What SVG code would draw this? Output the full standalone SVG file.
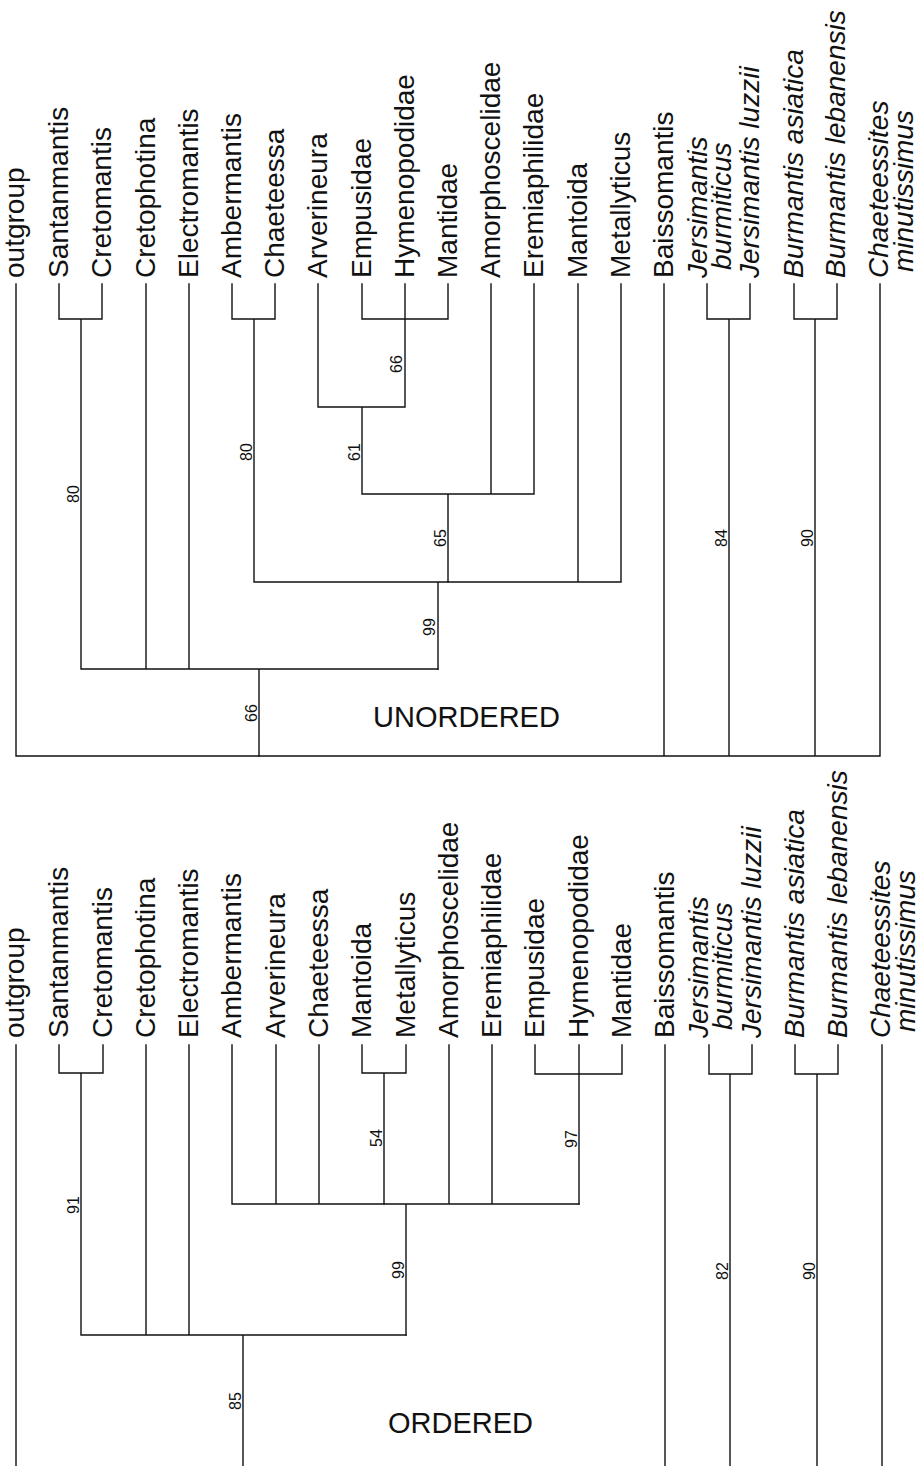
<svg xmlns="http://www.w3.org/2000/svg" width="919" height="1466" viewBox="0 0 919 1466">
<style>
.ln{fill:none;stroke:#111;stroke-width:1.4;stroke-linecap:square}
.lf{font-family:"Liberation Sans",Arial,sans-serif;font-size:28px;fill:#111}
.it{font-style:italic}
.bs{font-family:"Liberation Sans",Arial,sans-serif;font-size:16px;fill:#111;text-anchor:middle}
.ti{font-family:"Liberation Sans",Arial,sans-serif;font-size:29px;fill:#111}
</style>
<rect width="919" height="1466" fill="#fff"/>

<g id="connectors">
  <!-- UNORDERED tree -->
  <path class="ln" d="M59,284V319H102V284 M81,319V669 M146,284V669 M189,284V669 M81,669H438 M259,669V756"/>
  <path class="ln" d="M232,284V319H275V284 M254,319V582 M254,582H621 M438,582V669 M578,284V582 M621,284V582"/>
  <path class="ln" d="M448,494V582 M362,494H534 M491,284V494 M534,284V494 M362,407V494 M318,407H405 M318,284V407 M405,284V407 M362,284V319H448V284"/>
  <path class="ln" d="M16,284V756H880 M664,284V756 M707,284V319H750V284 M729,319V756 M794,284V319H837V284 M815,319V756 M880,284V756"/>
  <!-- ORDERED tree -->
  <path class="ln" d="M59,1045V1073H103V1045 M81,1073V1335 M146,1045V1335 M189,1045V1335 M81,1335H406 M243,1335V1466"/>
  <path class="ln" d="M406,1204V1335 M232,1204H579 M232,1045V1204 M276,1045V1204 M319,1045V1204 M449,1045V1204 M492,1045V1204"/>
  <path class="ln" d="M362,1045V1073H406V1045 M384,1073V1204 M535,1045V1074H622V1045 M579,1045V1204"/>
  <path class="ln" d="M16,1045V1466 M665,1045V1466 M709,1045V1074H752V1045 M730,1074V1466 M795,1045V1074H838V1045 M817,1074V1466 M882,1045V1466"/>
</g>

<!-- UNORDERED leaves -->
<g id="u-outgroup"><text class="lf" transform="translate(24,278) rotate(-90)">outgroup</text></g>
<g id="u-santanmantis"><text class="lf" transform="translate(68,278) rotate(-90)">Santanmantis</text></g>
<g id="u-cretomantis"><text class="lf" transform="translate(111,278) rotate(-90)">Cretomantis</text></g>
<g id="u-cretophotina"><text class="lf" transform="translate(155,278) rotate(-90)">Cretophotina</text></g>
<g id="u-electromantis"><text class="lf" transform="translate(198,278) rotate(-90)">Electromantis</text></g>
<g id="u-ambermantis"><text class="lf" transform="translate(241,278) rotate(-90)">Ambermantis</text></g>
<g id="u-chaeteessa"><text class="lf" transform="translate(284,278) rotate(-90)">Chaeteessa</text></g>
<g id="u-arverineura"><text class="lf" transform="translate(327,278) rotate(-90)">Arverineura</text></g>
<g id="u-empusidae"><text class="lf" transform="translate(371,278) rotate(-90)">Empusidae</text></g>
<g id="u-hymenopodidae"><text class="lf" transform="translate(414,278) rotate(-90)">Hymenopodidae</text></g>
<g id="u-mantidae"><text class="lf" transform="translate(457,278) rotate(-90)">Mantidae</text></g>
<g id="u-amorphoscelidae"><text class="lf" transform="translate(500,278) rotate(-90)">Amorphoscelidae</text></g>
<g id="u-eremiaphilidae"><text class="lf" transform="translate(543,278) rotate(-90)">Eremiaphilidae</text></g>
<g id="u-mantoida"><text class="lf" transform="translate(587,278) rotate(-90)">Mantoida</text></g>
<g id="u-metallyticus"><text class="lf" transform="translate(630,278) rotate(-90)">Metallyticus</text></g>
<g id="u-baissomantis"><text class="lf" transform="translate(673,278) rotate(-90)">Baissomantis</text></g>
<g id="u-jersimantis-burmiticus"><text class="lf it" transform="translate(707,278) rotate(-90)">Jersimantis</text><text class="lf it" transform="translate(731,270) rotate(-90)">burmiticus</text></g>
<g id="u-jersimantis-luzzii"><text class="lf it" transform="translate(759,278) rotate(-90)">Jersimantis luzzii</text></g>
<g id="u-burmantis-asiatica"><text class="lf it" transform="translate(803,278) rotate(-90)">Burmantis asiatica</text></g>
<g id="u-burmantis-lebanensis"><text class="lf it" transform="translate(845,278) rotate(-90)">Burmantis lebanensis</text></g>
<g id="u-chaeteessites"><text class="lf it" transform="translate(888,278) rotate(-90)">Chaeteessites</text><text class="lf it" transform="translate(913,272) rotate(-90)">minutissimus</text></g>

<!-- UNORDERED support values -->
<g id="u-support">
  <text class="bs" transform="translate(79,494) rotate(-90)">80</text>
  <text class="bs" transform="translate(252,452) rotate(-90)">80</text>
  <text class="bs" transform="translate(402,364) rotate(-90)">66</text>
  <text class="bs" transform="translate(360,452) rotate(-90)">61</text>
  <text class="bs" transform="translate(446,538) rotate(-90)">65</text>
  <text class="bs" transform="translate(435,627) rotate(-90)">99</text>
  <text class="bs" transform="translate(257,713) rotate(-90)">66</text>
  <text class="bs" transform="translate(727,538) rotate(-90)">84</text>
  <text class="bs" transform="translate(813,538) rotate(-90)">90</text>
</g>
<g id="u-title"><text class="ti" x="373" y="727">UNORDERED</text></g>

<!-- ORDERED leaves -->
<g id="o-outgroup"><text class="lf" transform="translate(24,1038) rotate(-90)">outgroup</text></g>
<g id="o-santanmantis"><text class="lf" transform="translate(68,1038) rotate(-90)">Santanmantis</text></g>
<g id="o-cretomantis"><text class="lf" transform="translate(112,1038) rotate(-90)">Cretomantis</text></g>
<g id="o-cretophotina"><text class="lf" transform="translate(155,1038) rotate(-90)">Cretophotina</text></g>
<g id="o-electromantis"><text class="lf" transform="translate(198,1038) rotate(-90)">Electromantis</text></g>
<g id="o-ambermantis"><text class="lf" transform="translate(241,1038) rotate(-90)">Ambermantis</text></g>
<g id="o-arverineura"><text class="lf" transform="translate(285,1038) rotate(-90)">Arverineura</text></g>
<g id="o-chaeteessa"><text class="lf" transform="translate(328,1038) rotate(-90)">Chaeteessa</text></g>
<g id="o-mantoida"><text class="lf" transform="translate(371,1038) rotate(-90)">Mantoida</text></g>
<g id="o-metallyticus"><text class="lf" transform="translate(415,1038) rotate(-90)">Metallyticus</text></g>
<g id="o-amorphoscelidae"><text class="lf" transform="translate(458,1038) rotate(-90)">Amorphoscelidae</text></g>
<g id="o-eremiaphilidae"><text class="lf" transform="translate(501,1038) rotate(-90)">Eremiaphilidae</text></g>
<g id="o-empusidae"><text class="lf" transform="translate(544,1038) rotate(-90)">Empusidae</text></g>
<g id="o-hymenopodidae"><text class="lf" transform="translate(588,1038) rotate(-90)">Hymenopodidae</text></g>
<g id="o-mantidae"><text class="lf" transform="translate(631,1038) rotate(-90)">Mantidae</text></g>
<g id="o-baissomantis"><text class="lf" transform="translate(674,1038) rotate(-90)">Baissomantis</text></g>
<g id="o-jersimantis-burmiticus"><text class="lf it" transform="translate(708,1038) rotate(-90)">Jersimantis</text><text class="lf it" transform="translate(732,1030) rotate(-90)">burmiticus</text></g>
<g id="o-jersimantis-luzzii"><text class="lf it" transform="translate(761,1038) rotate(-90)">Jersimantis luzzii</text></g>
<g id="o-burmantis-asiatica"><text class="lf it" transform="translate(804,1038) rotate(-90)">Burmantis asiatica</text></g>
<g id="o-burmantis-lebanensis"><text class="lf it" transform="translate(847,1038) rotate(-90)">Burmantis lebanensis</text></g>
<g id="o-chaeteessites"><text class="lf it" transform="translate(890,1038) rotate(-90)">Chaeteessites</text><text class="lf it" transform="translate(915,1032) rotate(-90)">minutissimus</text></g>

<!-- ORDERED support values -->
<g id="o-support">
  <text class="bs" transform="translate(79,1205) rotate(-90)">91</text>
  <text class="bs" transform="translate(382,1138) rotate(-90)">54</text>
  <text class="bs" transform="translate(577,1139) rotate(-90)">97</text>
  <text class="bs" transform="translate(404,1270) rotate(-90)">99</text>
  <text class="bs" transform="translate(241,1401) rotate(-90)">85</text>
  <text class="bs" transform="translate(728,1271) rotate(-90)">82</text>
  <text class="bs" transform="translate(815,1271) rotate(-90)">90</text>
</g>
<g id="o-title"><text class="ti" x="388" y="1433">ORDERED</text></g>
</svg>
